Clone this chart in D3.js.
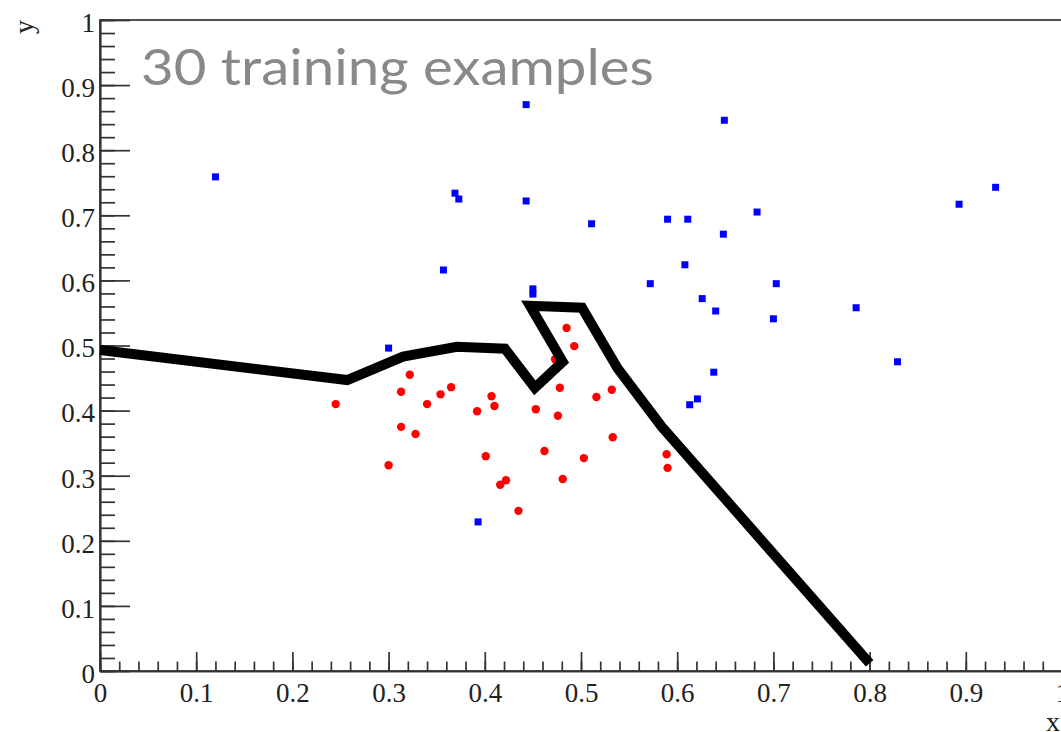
<!DOCTYPE html>
<html>
<head>
<meta charset="utf-8">
<script src="https://cdn.jsdelivr.net/npm/d3@7"></script>
<style>
  body { margin: 0; background: #fff; }
  svg { display: block; }
  .axis text { font-family: "Liberation Serif", "Times New Roman", serif; font-size: 27px; fill: #222; }
  .axis line, .axis path { stroke: #333; stroke-width: 1.7px; }
</style>
</head>
<body>
<svg id="chart" width="1061" height="732"></svg>
<script>
// class B (blue squares) - x, y
var blueX = [0.120, 0.443, 0.649, 0.369, 0.373, 0.443, 0.511, 0.590, 0.611, 0.683,
             0.648, 0.893, 0.931, 0.357, 0.608, 0.572, 0.703, 0.626, 0.640, 0.700,
             0.786, 0.450, 0.450, 0.300, 0.829, 0.638, 0.621, 0.613, 0.393];
var blueY = [0.759, 0.870, 0.846, 0.734, 0.725, 0.722, 0.687, 0.694, 0.694, 0.705,
             0.671, 0.717, 0.743, 0.616, 0.624, 0.595, 0.595, 0.572, 0.553, 0.541,
             0.558, 0.587, 0.579, 0.496, 0.475, 0.459, 0.418, 0.409, 0.229];
// class A (red dots)
var redX = [0.245, 0.322, 0.313, 0.340, 0.354, 0.365, 0.313, 0.328, 0.300, 0.392,
            0.407, 0.410, 0.401, 0.416, 0.422, 0.435, 0.485, 0.493, 0.473, 0.478,
            0.453, 0.476, 0.532, 0.516, 0.533, 0.462, 0.503, 0.481, 0.589, 0.590];
var redY = [0.410, 0.455, 0.429, 0.410, 0.425, 0.436, 0.375, 0.364, 0.316, 0.399,
            0.422, 0.407, 0.330, 0.286, 0.293, 0.246, 0.527, 0.499, 0.479, 0.435,
            0.402, 0.392, 0.432, 0.421, 0.359, 0.338, 0.327, 0.295, 0.333, 0.312];
// decision boundary
var boundX = [0, 0.257, 0.315, 0.371, 0.421, 0.452, 0.481, 0.447, 0.501, 0.538, 0.584, 0.80];
var boundY = [0.493, 0.447, 0.483, 0.498, 0.495, 0.435, 0.475, 0.561, 0.558, 0.465, 0.375, 0.012];

var majorTicks = [0, 0.1, 0.2, 0.3, 0.4, 0.5, 0.6, 0.7, 0.8, 0.9, 1];
var tickLabels = ["0", "0.1", "0.2", "0.3", "0.4", "0.5", "0.6", "0.7", "0.8", "0.9", "1"];
var minorTicks = d3.range(0, 51).map(function (i) { return i / 50; });

var svg = d3.select("#chart");
var x = d3.scaleLinear().domain([0, 1]).range([100, 1062]);
var y = d3.scaleLinear().domain([0, 1]).range([671, 20]);

// frame
svg.append("rect")
    .attr("x", x(0)).attr("y", y(1))
    .attr("width", x(1) - x(0)).attr("height", y(0) - y(1))
    .attr("fill", "none").attr("stroke", "#333").attr("stroke-width", 1.7);

function fmt(d) { return tickLabels[majorTicks.indexOf(d)]; }

// minor ticks first
svg.append("g").attr("class", "axis")
    .attr("transform", "translate(0," + y(0) + ")")
    .call(d3.axisBottom(x).tickValues(minorTicks).tickSize(-9.5).tickSizeOuter(0).tickFormat(""));
svg.append("g").attr("class", "axis")
    .attr("transform", "translate(" + x(0) + ",0)")
    .call(d3.axisLeft(y).tickValues(minorTicks).tickSize(-15).tickSizeOuter(0).tickFormat(""));

var xAxis = svg.append("g").attr("class", "axis")
    .attr("transform", "translate(0," + y(0) + ")")
    .call(d3.axisBottom(x).tickValues(majorTicks).tickSize(-19).tickSizeOuter(0).tickPadding(12).tickFormat(fmt));
xAxis.selectAll("text").attr("dy", "0.71em");

var yAxis = svg.append("g").attr("class", "axis")
    .attr("transform", "translate(" + x(0) + ",0)")
    .call(d3.axisLeft(y).tickValues(majorTicks).tickSize(-30).tickSizeOuter(0).tickPadding(5).tickFormat(fmt));
yAxis.selectAll("text").attr("dy", "0.42em");

// axis titles
svg.append("text")
    .attr("x", 1060).attr("y", 731)
    .attr("text-anchor", "end")
    .style("font-family", "Liberation Serif, serif").style("font-size", "28px").style("fill", "#222")
    .text("x");
svg.append("text")
    .attr("transform", "translate(33,20) rotate(-90)")
    .attr("text-anchor", "end")
    .style("font-family", "Liberation Serif, serif").style("font-size", "28px").style("fill", "#222")
    .text("y");

// points
var blue = blueX.map(function (d, i) { return { x: d, y: blueY[i] }; });
var red = redX.map(function (d, i) { return { x: d, y: redY[i] }; });

svg.append("g").selectAll("rect")
    .data(blue)
    .enter().append("rect")
    .attr("x", function (d) { return x(d.x) - 3.5; })
    .attr("y", function (d) { return y(d.y) - 3.5; })
    .attr("width", 7).attr("height", 7)
    .attr("fill", "#0000ff");

svg.append("g").selectAll("circle")
    .data(red)
    .enter().append("circle")
    .attr("cx", function (d) { return x(d.x); })
    .attr("cy", function (d) { return y(d.y); })
    .attr("r", 4.2)
    .attr("fill", "#ff0000");

// boundary
var bound = boundX.map(function (d, i) { return [d, boundY[i]]; });
var line = d3.line()
    .x(function (d) { return x(d[0]); })
    .y(function (d) { return y(d[1]); });
svg.append("path")
    .datum(bound)
    .attr("d", line)
    .attr("fill", "none")
    .attr("stroke", "#000")
    .attr("stroke-width", 10)
    .attr("stroke-linejoin", "miter");

// title
svg.append("text")
    .attr("x", 141).attr("y", 85)
    .attr("textLength", 513)
    .attr("lengthAdjust", "spacingAndGlyphs")
    .style("font-family", "Lato, sans-serif").style("font-size", "51px").style("fill", "#878a8a")
    .text("30 training examples");
</script>
</body>
</html>
